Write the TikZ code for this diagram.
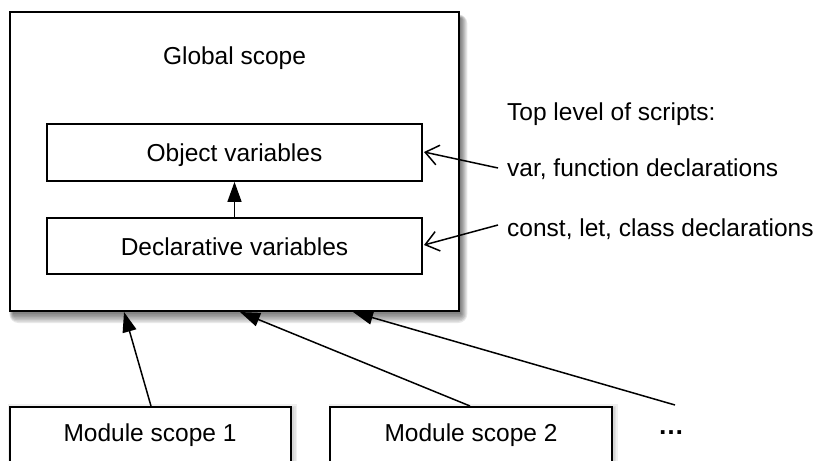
\documentclass[tikz,border=0pt]{standalone}
\usepackage{fontspec}
\setmainfont{Liberation Sans}
\usetikzlibrary{arrows.meta,calc}
\begin{document}
\begin{tikzpicture}[x=1pt,y=-1pt,
  box/.style={draw=black,line width=1.8pt,fill=white,inner sep=0pt},
  lbl/.style={font=\fontsize{24.5}{29}\selectfont,inner sep=0pt},
  fillarrow/.style={line width=1.5pt,-{Triangle[length=20pt,width=14pt]}},
  openarrow/.style={line width=1.5pt,-{Straight Barb[length=13pt,width=20pt,line width=1.5pt]}},
  shadowlayer/.style={fill=black,draw=none}
]
\useasboundingbox (0,0) rectangle (821,460);
\clip (0,0) rectangle (821,460);
% soft shadow of global box
\foreach \d in {9,7.5,6,4.5,3,1.5,0}{
  \fill[shadowlayer,opacity=0.09,rounded corners=\d pt] (13-0.4*\d,18-0.4*\d) rectangle (461+0.7*\d,314+\d);
}
\node[box,minimum width=449pt,minimum height=299pt] (g) at (234.5,161.5) {};
\node[lbl,anchor=base] (gt) at (234.5,64) {Global scope};
\node[box,minimum width=375pt,minimum height=57pt] (ob) at (234.5,152.5) {};
\node[lbl,anchor=base] (obt) at (234.5,161.5) {Object variables};
\node[box,minimum width=375pt,minimum height=56pt] (de) at (234.5,246) {};
\node[lbl,anchor=base] (det) at (234.5,255) {Declarative variables};
\draw[fillarrow] (de.north) -- (ob.south);
% right texts
\node[lbl,anchor=base west] (t0) at (507,120) {Top level of scripts:};
\node[lbl,anchor=base west] (t1) at (507,176.5) {var, function declarations};
\node[lbl,anchor=base west] (t2) at (507,236) {const, let, class declarations};
\coordinate (s1) at (498,168);
\coordinate (e1) at (424,152);
\coordinate (s2) at (498,225);
\coordinate (e2) at (424,245);
\draw[openarrow] (s1) -- (e1);
\draw[openarrow] (s2) -- (e2);
% module boxes
\foreach \cx in {150.5,471}{
  \foreach \d in {4,2.5,1}{
    \fill[shadowlayer,opacity=0.06] (\cx-140+1.5-\d,408-\d) rectangle (\cx+141+1.5+\d,500);
  }
}
\node[box,minimum width=281pt,minimum height=90pt,anchor=north] (m1) at (150.5,406) {};
\node[lbl,anchor=base] (m1t) at (150,441.5) {Module scope 1};
\node[box,minimum width=282pt,minimum height=90pt,anchor=north] (m2) at (471,406) {};
\node[lbl,anchor=base] (m2t) at (471,441.5) {Module scope 2};
\node[lbl,anchor=base,font=\fontsize{26}{30}\selectfont\bfseries] (dots) at (671,434) {…};
\coordinate (s3) at (675,405);
\coordinate (g1) at (124,312);
\coordinate (g2) at (240,312);
\coordinate (g3) at (353,312);
\draw[fillarrow] (m1.north -| 151,0) -- (g1);
\draw[fillarrow] (m2.north -| 470,0) -- (g2);
\draw[fillarrow] (s3) -- (g3);
\end{tikzpicture}
\end{document}
